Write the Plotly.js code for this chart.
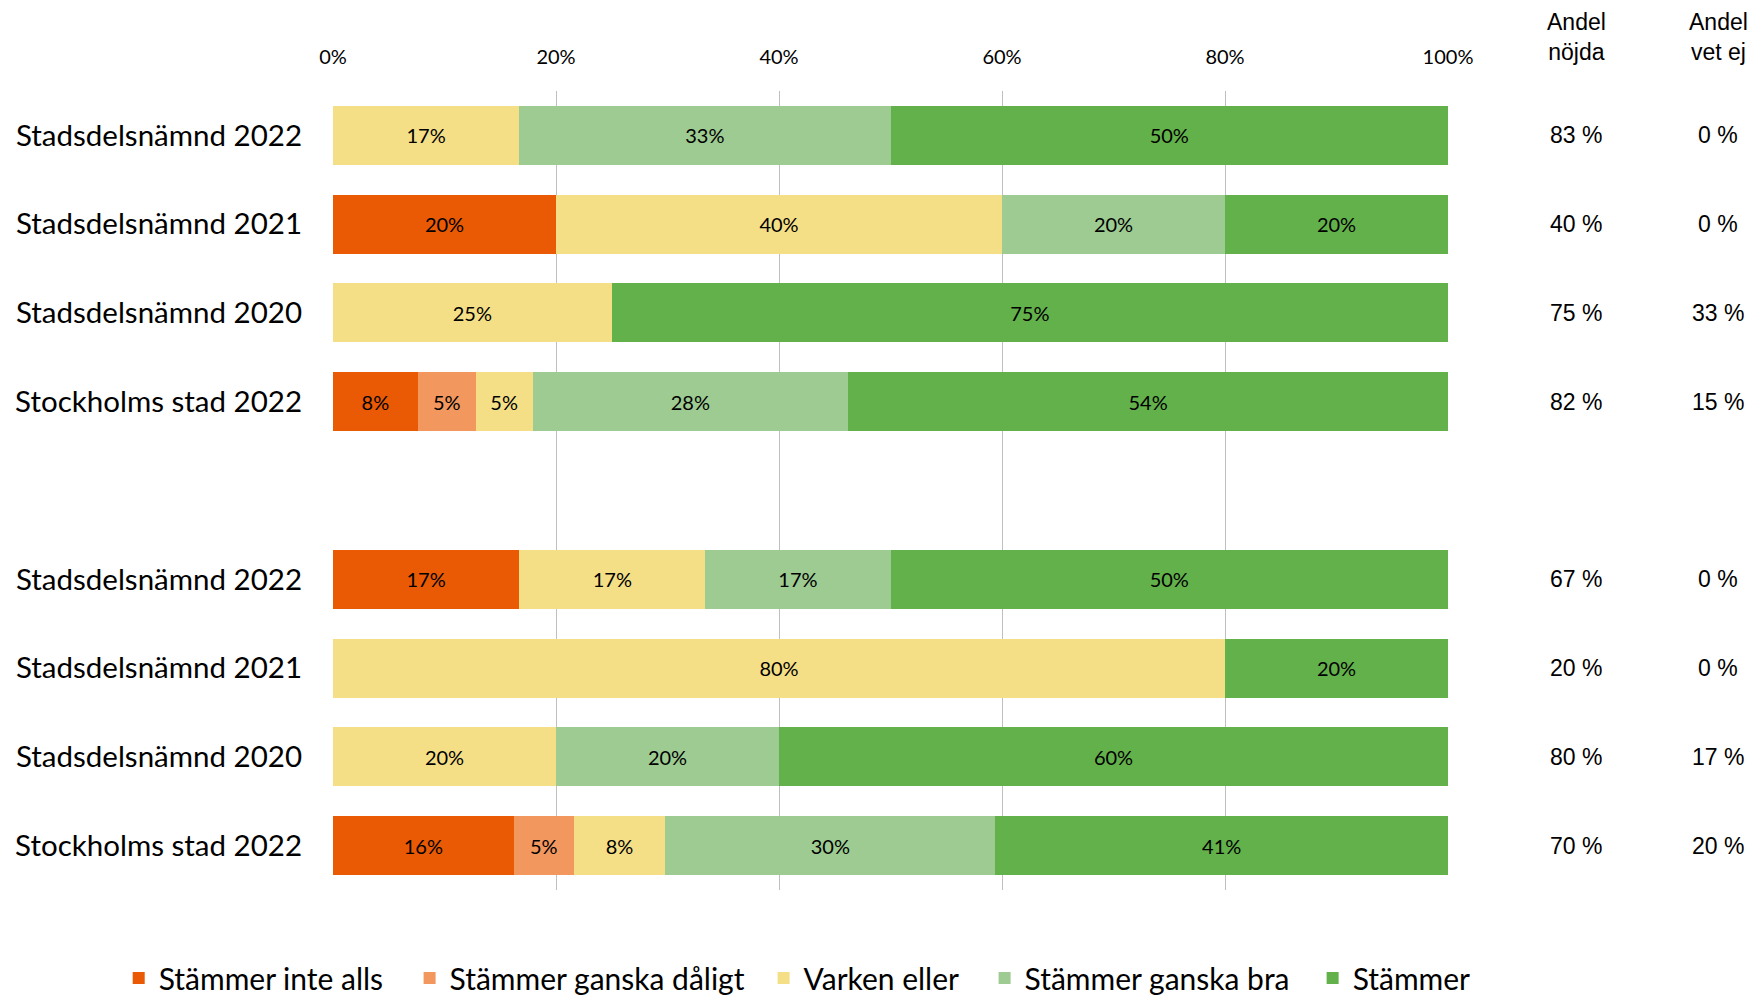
<!DOCTYPE html>
<html>
<head>
<meta charset="utf-8">
<script src="https://cdn.plot.ly/plotly-3.0.1.min.js"></script>
<style>
html,body{margin:0;padding:0;background:#fff;}
#chart{width:1759px;height:998px;}
</style>
</head>
<body>
<div id="chart"></div>
<script>
// Row labels, top to bottom (empty string = blank spacer row)
const rowLabels = [
  "Stadsdelsnämnd 2022",
  "Stadsdelsnämnd 2021",
  "Stadsdelsnämnd 2020",
  "Stockholms stad 2022",
  "",
  "Stadsdelsnämnd 2022",
  "Stadsdelsnämnd 2021",
  "Stadsdelsnämnd 2020",
  "Stockholms stad 2022"
];

const seriesNames = [
  "Stämmer inte alls",
  "Stämmer ganska dåligt",
  "Varken eller",
  "Stämmer ganska bra",
  "Stämmer"
];

// Percent values per series (null = no segment)
const inteAlls     = [null, 20,   null, 7.6,  null, 16.7, null, null, 16.2];
const ganskaDaligt = [null, null, null, 5.2,  null, null, null, null, 5.4];
const varkenEller  = [16.7, 40,   25,   5.1,  null, 16.7, 80,   20,   8.2];
const ganskaBra    = [33.3, 20,   null, 28.3, null, 16.6, null, 20,   29.6];
const stammer      = [50,   20,   75,   53.8, null, 50,   20,   60,   40.6];

// Right-hand columns
const andelNojda = [83, 40, 75, 82, null, 67, 20, 80, 70];
const andelVetEj = [0, 0, 33, 15, null, 0, 0, 17, 20];

const xTicks = [0, 20, 40, 60, 80, 100];

const colors = ["#EA5A04", "#F2975E", "#F5DF86", "#9DCB91", "#63B14B"];
const seriesValues = [inteAlls, ganskaDaligt, varkenEller, ganskaBra, stammer];

const FONT = "Lato, 'Open Sans', sans-serif";
const ARIAL = "'Liberation Sans', Arial, sans-serif";

const rowIdx = rowLabels.map((_, i) => i);
const legendIds = ["legend", "legend2", "legend3", "legend4", "legend5"];
const legendX = [-0.1922, 0.0687, 0.3862, 0.5844, 0.8786];

const traces = seriesValues.map((vals, s) => ({
  type: "bar",
  orientation: "h",
  name: seriesNames[s],
  legend: legendIds[s],
  y: rowIdx,
  x: vals,
  marker: {color: colors[s], line: {width: 0}},
  text: vals.map(v => v == null ? "" : Math.round(v) + "%"),
  texttemplate: "%{text}",
  textposition: "inside",
  insidetextanchor: "middle",
  textangle: 0,
  constraintext: "none",
  textfont: {family: FONT, size: 20, color: "#000"},
  hoverinfo: "skip"
}));

const annotations = [];
const colX = [1.1148, 1.2422];
const colData = [andelNojda, andelVetEj];
const colHead = ["Andel<br>nöjda", "Andel<br>vet ej"];
colData.forEach((arr, c) => {
  annotations.push({
    xref: "paper", yref: "paper", x: colX[c], y: 1.0676,
    xanchor: "center", yanchor: "middle", showarrow: false,
    text: colHead[c], font: {family: ARIAL, size: 23, color: "#000"}
  });
  arr.forEach((v, i) => {
    if (v == null) return;
    annotations.push({
      xref: "paper", yref: "y", x: colX[c], y: i,
      xanchor: "center", yanchor: "middle", showarrow: false,
      text: v + " %", font: {family: ARIAL, size: 23, color: "#000"}
    });
  });
});

const layout = {
  width: 1759, height: 998,
  margin: {l: 333, r: 311, t: 91, b: 108, pad: 0, autoexpand: false},
  barmode: "stack",
  bargap: 0.335,
  paper_bgcolor: "#fff",
  plot_bgcolor: "#fff",
  showlegend: true,
  xaxis: {
    side: "top", range: [0, 100], tickvals: xTicks, ticktext: xTicks.map(t => t + "%"),
    showgrid: true, gridcolor: "#BFBFBF", gridwidth: 1,
    zeroline: false, showline: false, ticks: "",
    ticklabelstandoff: 22,
    tickfont: {family: FONT, size: 20, color: "#000"},
    fixedrange: true
  },
  yaxis: {
    range: [8.5, -0.5], tickvals: rowIdx, ticktext: rowLabels,
    showgrid: false, zeroline: false, showline: false, ticks: "",
    ticklabelstandoff: 30,
    tickfont: {family: FONT, size: 29.5, color: "#000"},
    fixedrange: true
  },
  annotations: annotations
};

legendIds.forEach((id, s) => {
  layout[id] = {
    orientation: "h", x: legendX[s], xanchor: "left", y: -0.110, yanchor: "middle",
    font: {family: FONT, size: 30, color: "#000"},
    bgcolor: "rgba(0,0,0,0)",
    itemclick: false, itemdoubleclick: false
  };
});

Plotly.newPlot("chart", traces, layout, {displayModeBar: false, staticPlot: true});
</script>
</body>
</html>
